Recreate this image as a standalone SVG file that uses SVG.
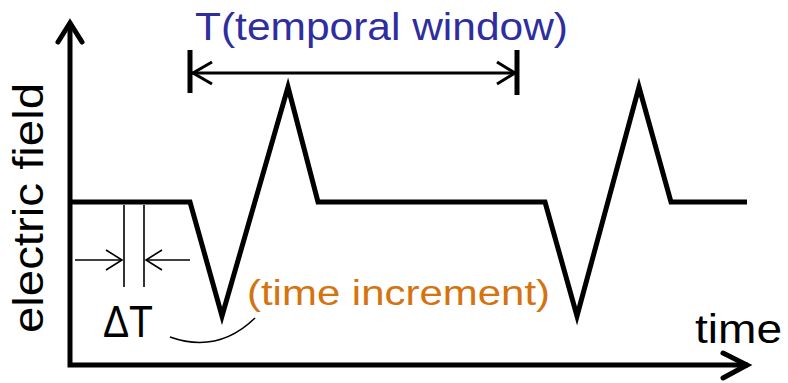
<svg xmlns="http://www.w3.org/2000/svg" width="788" height="383" viewBox="0 0 788 383">
<style>
.ax{fill:none;stroke:#000;stroke-width:5}
.wave{fill:none;stroke:#000;stroke-width:5;stroke-linejoin:miter;stroke-miterlimit:10}
.thin{fill:none;stroke:#000;stroke-width:1.6}
.mid{fill:none;stroke:#000;stroke-width:3}
.bar{fill:none;stroke:#000;stroke-width:5}
text{font-family:"Liberation Sans",Arial,sans-serif}
</style>
<rect width="788" height="383" fill="#fff"/>
<g id="axes">
<polyline class="ax" points="70,24 70,365 748,365"/>
<polyline class="ax" points="58,42 70,23 82,42" stroke-linecap="round"/>
<polyline class="ax" points="723,353 747,365 723,378" stroke-linecap="round"/>
<text x="0" y="0" transform="translate(43,333) rotate(-90)" font-size="42" textLength="250" lengthAdjust="spacingAndGlyphs">electric field</text>
<text x="695" y="343" font-size="40" textLength="87" lengthAdjust="spacingAndGlyphs">time</text>
</g>
<g id="waveform">
<polyline class="wave" points="70,202 190,202 222,316 288,87 318,202 545,202 577,316 639,87 671,202 747,202"/>
</g>
<g id="temporal-window">
<line class="bar" x1="190" y1="50" x2="190" y2="93"/>
<line class="bar" x1="517" y1="50" x2="517" y2="95"/>
<line class="mid" x1="192" y1="73" x2="515" y2="73"/>
<polyline class="mid" points="212,62 193,73 212,84"/>
<polyline class="mid" points="497,62 515,73 497,84"/>
<text x="195" y="40" font-size="38" fill="#2E2E9E" textLength="373" lengthAdjust="spacingAndGlyphs">T(temporal window)</text>
</g>
<g id="time-increment">
<line class="thin" x1="124" y1="205" x2="124" y2="287" stroke-width="2.2"/>
<line class="thin" x1="144" y1="205" x2="144" y2="287" stroke-width="2.2"/>
<line class="thin" x1="75" y1="260" x2="122" y2="260"/>
<polyline class="thin" points="106,250 122,260 106,270"/>
<line class="thin" x1="190" y1="260" x2="146" y2="260"/>
<polyline class="thin" points="162,250 146,260 162,270"/>
<text x="103" y="337" font-size="44" textLength="50" lengthAdjust="spacingAndGlyphs">ΔT</text>
<path class="thin" d="M170,337 Q218,354 255,318"/>
<text x="247" y="305" font-size="35" fill="#D4730F" textLength="303" lengthAdjust="spacingAndGlyphs">(time increment)</text>
</g>
</svg>
